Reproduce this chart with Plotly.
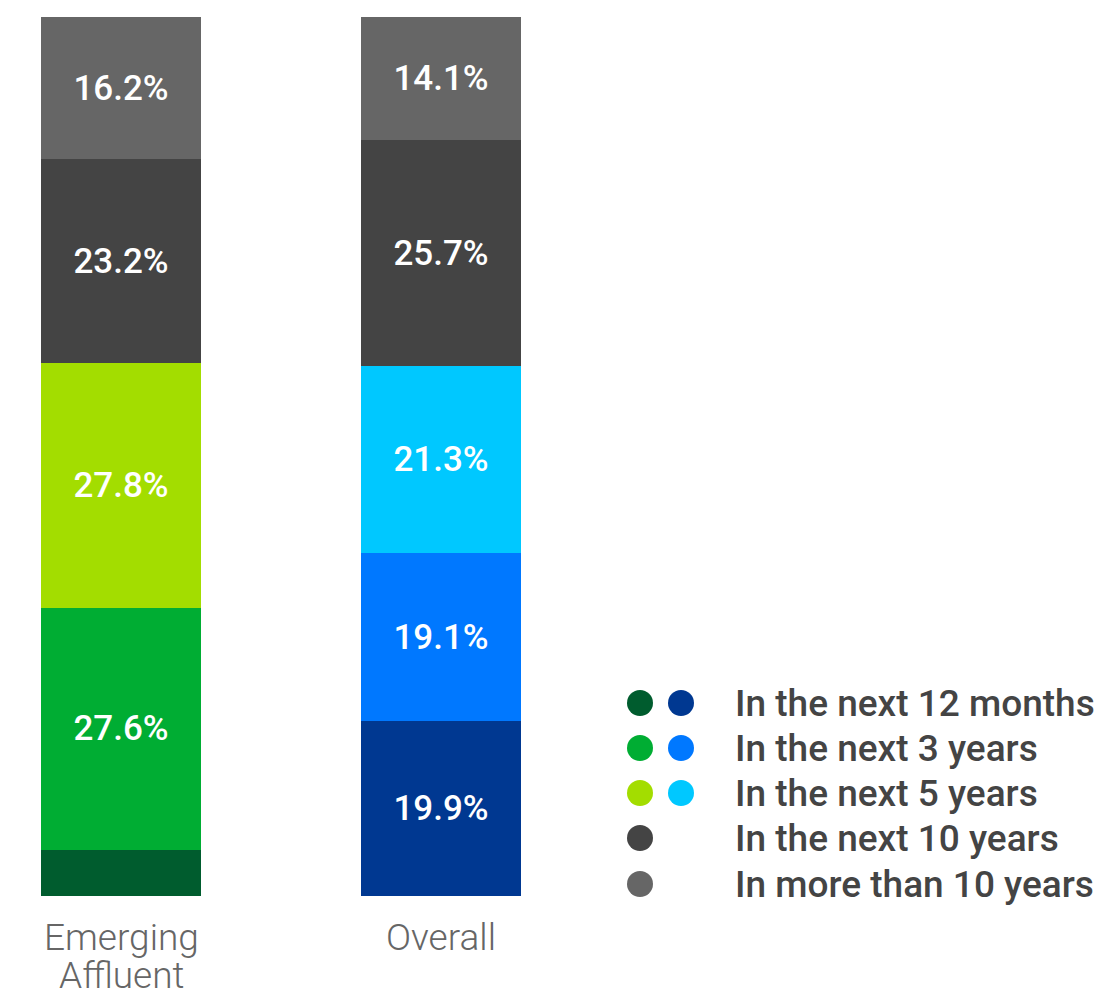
import plotly.graph_objects as go

groups = ['Emerging<br>Affluent', 'Overall']
series = ['In the next 12 months', 'In the next 3 years', 'In the next 5 years',
          'In the next 10 years', 'In more than 10 years']
emerging = [5.2, 27.6, 27.8, 23.2, 16.2]
overall = [19.9, 19.1, 21.3, 25.7, 14.1]
emerging_labels = ['', '27.6%', '27.8%', '23.2%', '16.2%']
overall_labels = ['19.9%', '19.1%', '21.3%', '25.7%', '14.1%']

green_cols = ['#005c2e', '#00ad33', '#a3dd00', '#444444', '#666666']
blue_cols = ['#003891', '#0078ff', '#00c8ff', '#444444', '#666666']

W, H = 1095, 983
T, B = 9, 95
PW = 600
PH = H - T - B

fig = go.Figure()
for i, s in enumerate(series):
    fig.add_trace(go.Bar(
        x=groups, y=[emerging[i], overall[i]],
        text=[emerging_labels[i], overall_labels[i]],
        textposition='inside', insidetextanchor='middle',
        textfont=dict(family='Roboto', size=35, color='white', weight=500),
        marker=dict(color=[green_cols[i], blue_cols[i]], line=dict(width=0)),
        width=0.5, name=s, showlegend=False, hoverinfo='skip'))


def py(pix):
    # pixel row in figure -> paper y
    return (H - B - pix) / PH


# category labels, one annotation per line for tight spacing
for g in groups:
    for k, line in enumerate(g.split('<br>')):
        fig.add_annotation(text=line, x=g, xref='x', yref='paper', y=0,
                           yanchor='middle', yshift=-41 - 38 * k, showarrow=False,
                           font=dict(family='Roboto', size=37, color='#666666', weight=300))

# legend built by hand: two dots per row (green / blue), single dot for greys
row_y = [695, 740, 785, 830, 876]
for i, s in enumerate(series):
    yp = row_y[i]
    fig.add_shape(type='circle', xref='paper', yref='paper',
                  x0=619 / PW, x1=645 / PW, y0=py(yp + 13), y1=py(yp - 13),
                  fillcolor=green_cols[i], line=dict(width=0))
    if i < 3:
        fig.add_shape(type='circle', xref='paper', yref='paper',
                      x0=660 / PW, x1=686 / PW, y0=py(yp + 13), y1=py(yp - 13),
                      fillcolor=blue_cols[i], line=dict(width=0))
    fig.add_annotation(text=s, xref='paper', yref='paper', x=725 / PW,
                       y=py(yp), xanchor='left', yanchor='middle', showarrow=False,
                       font=dict(family='Roboto', size=37, color='#444444', weight=500))

fig.update_layout(
    barmode='stack', width=W, height=H,
    margin=dict(l=0, r=W - PW, t=T, b=B),
    plot_bgcolor='white', paper_bgcolor='white',
    xaxis=dict(range=[-113 / 320, -113 / 320 + PW / 320], showgrid=False, zeroline=False,
               showline=False, ticks='', showticklabels=False),
    yaxis=dict(range=[0, 100], visible=False),
)
fig.write_html('out.html')
